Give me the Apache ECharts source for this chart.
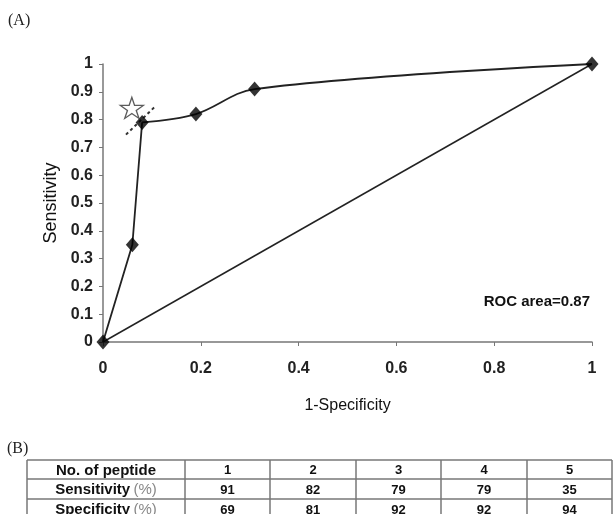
<!DOCTYPE html>
<html>
<head>
<meta charset="utf-8">
<script src="https://cdn.jsdelivr.net/npm/echarts@6/dist/echarts.min.js"></script>
<style>
html,body{margin:0;padding:0;background:#fff;}
#chart{width:613px;height:514px;}
</style>
</head>
<body>
<div id="chart"></div>
<script>
// ROC curve points (1-Specificity, Sensitivity)
const rocX = [0, 0.06, 0.08, 0.19, 0.31, 1];
const rocY = [0, 0.35, 0.79, 0.82, 0.91, 1];
// chance diagonal
const diagX = [0, 1];
const diagY = [0, 1];
// optimal cut-off marker (star) and tangent dashed line
const starPoint = [0.059, 0.842];
const tangentX = [0.047, 0.106];
const tangentY = [0.746, 0.846];
// table (B)
const peptideNo = ['1', '2', '3', '4', '5'];
const sensitivityPct = [91, 82, 79, 79, 35];
const specificityPct = [69, 81, 92, 92, 94];
const rocAreaText = 'ROC area=0.87';

const chart = echarts.init(document.getElementById('chart'));

const font = 'Liberation Sans, Arial, sans-serif';
const serif = 'Liberation Serif, Times New Roman, serif';

// table geometry
const colEdges = [27, 185, 270, 356, 441, 527, 612];
const rowEdges = [460, 479, 499, 519];
const graphics = [];
graphics.push({type:'text', left:8, top:13, style:{text:'(A)', font:'16px ' + serif, fill:'#222'}});
graphics.push({type:'text', left:7, top:441, style:{text:'(B)', font:'16px ' + serif, fill:'#222'}});
graphics.push({type:'text', right:23, top:294, style:{text:rocAreaText, font:'bold 15px ' + font, fill:'#111'}});
// table lines
rowEdges.forEach(y => graphics.push({type:'line', shape:{x1:colEdges[0], y1:y, x2:colEdges[colEdges.length-1], y2:y}, style:{stroke:'#777', lineWidth:1.5}}));
colEdges.forEach(x => graphics.push({type:'line', shape:{x1:x, y1:rowEdges[0], x2:x, y2:rowEdges[rowEdges.length-1]}, style:{stroke:'#777', lineWidth:1.5}}));
const rows = [
  {label:'{b|No. of peptide}', vals: peptideNo},
  {label:'{b|Sensitivity} {g|(%)}', vals: sensitivityPct.map(String)},
  {label:'{b|Specificity} {g|(%)}', vals: specificityPct.map(String)}
];
rows.forEach((r, i) => {
  const cy = (rowEdges[i] + rowEdges[i+1]) / 2 + 1;
  graphics.push({type:'text', x:(colEdges[0]+colEdges[1])/2, y:cy, style:{
    text:r.label, align:'center', verticalAlign:'middle',
    rich:{b:{font:'bold 15px ' + font, fill:'#111'}, g:{font:'15px ' + font, fill:'#888'}}
  }});
  r.vals.forEach((v, j) => {
    graphics.push({type:'text', x:(colEdges[j+1]+colEdges[j+2])/2, y:cy, style:{
      text:v, align:'center', verticalAlign:'middle', font:'bold 13px ' + font, fill:'#111'
    }});
  });
});

const starPath = 'path://M50,0 L61.8,36.2 L100,36.2 L69.1,58.8 L80.9,95.1 L50,72.7 L19.1,95.1 L30.9,58.8 L0,36.2 L38.2,36.2 Z';

const rocPts = rocX.map((x,i)=>[x, rocY[i]]);

chart.setOption({
  backgroundColor:'#fff',
  animation:false,
  grid:{left:103, right:21, top:64, bottom:172},
  xAxis:{
    type:'value', min:0, max:1, interval:0.2,
    name:'1-Specificity', nameLocation:'middle', nameGap:56,
    nameTextStyle:{fontFamily:font, fontSize:16, color:'#111'},
    axisLine:{show:true, lineStyle:{color:'#777', width:1.5}},
    axisTick:{show:true, length:4, lineStyle:{color:'#777'}},
    axisLabel:{fontFamily:font, fontWeight:'bold', fontSize:16, color:'#222', margin:19},
    splitLine:{show:false}
  },
  yAxis:{
    type:'value', min:0, max:1, interval:0.1,
    name:'Sensitivity', nameLocation:'middle', nameGap:43,
    nameTextStyle:{fontFamily:font, fontSize:18, color:'#111'},
    axisLine:{show:true, lineStyle:{color:'#777', width:1.5}},
    axisTick:{show:true, length:4, lineStyle:{color:'#777'}},
    axisLabel:{fontFamily:font, fontWeight:'bold', fontSize:16, color:'#222', margin:10},
    splitLine:{show:false}
  },
  graphic: graphics,
  series:[
    {type:'line', data: diagX.map((x,i)=>[x, diagY[i]]), symbol:'none',
     lineStyle:{color:'#222', width:1.5}, z:2},
    // steep lower part of ROC curve (straight)
    {type:'line', data: rocPts.slice(0, 3), smooth:false, symbol:'none',
     lineStyle:{color:'#222', width:1.8}, z:3},
    // upper part of ROC curve (smoothed)
    {type:'line', data: rocPts.slice(2), smooth:0.35, symbol:'none',
     lineStyle:{color:'#222', width:1.8}, z:3},
    {type:'scatter', data: rocPts, symbol:'diamond', symbolSize:[13,15],
     itemStyle:{color:'#000'}, z:4},
    {type:'line', data: tangentX.map((x,i)=>[x, tangentY[i]]), symbol:'none',
     lineStyle:{color:'#333', width:2, type:[3,3]}, z:4},
    {type:'scatter', data:[starPoint], symbol:starPath, symbolSize:[23,21],
     itemStyle:{color:'#fff', borderColor:'#333', borderWidth:1.3}, z:5}
  ]
});
</script>
</body>
</html>
